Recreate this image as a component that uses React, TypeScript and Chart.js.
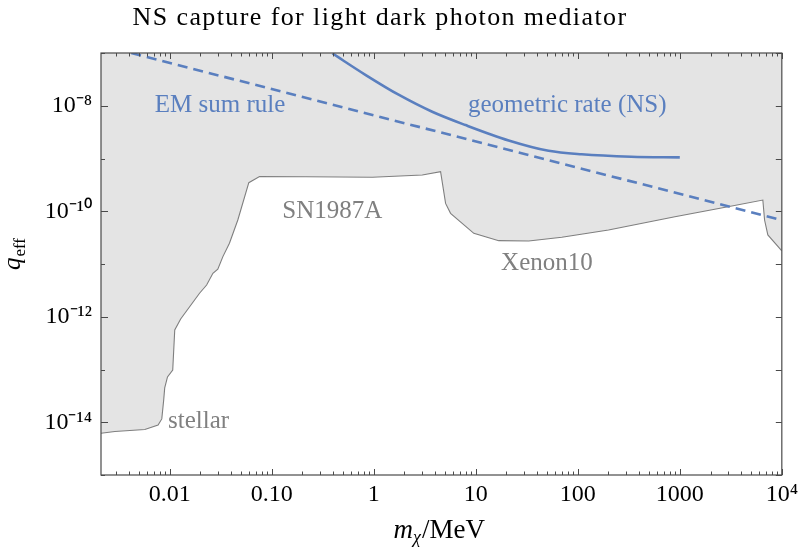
import React, { useEffect, useRef } from 'react';
import { Chart, registerables } from 'chart.js';

Chart.register(...registerables);

// ---- data ----
// excluded-region boundary (stellar / SN1987A / Xenon10), m_chi in MeV
const boundaryMass = [0.00212, 0.0029, 0.0057, 0.00769, 0.00836, 0.00873, 0.00893, 0.00951, 0.0107, 0.0112, 0.0128, 0.0196, 0.023, 0.0265, 0.0296, 0.0332, 0.0385, 0.0465, 0.0596, 0.0759, 0.217, 0.97, 2.99, 4.52, 5.06, 5.66, 9.57, 16.8, 33.0, 69.7, 200, 895, 2965, 6516, 6776, 7295, 10000];
const boundaryQ = [6.19e-15, 6.7e-15, 7.31e-15, 8.89e-15, 1.156e-14, 2.65e-14, 4.47e-14, 7.23e-14, 9.8e-14, 5.61e-13, 9.08e-13, 2.79e-12, 4.0e-12, 6.67e-12, 7.94e-12, 1.38e-11, 2.47e-11, 6.82e-11, 3.48e-10, 4.55e-10, 4.52e-10, 4.4e-10, 4.86e-10, 5.61e-10, 1.41e-10, 9.14e-11, 3.82e-11, 2.77e-11, 2.73e-11, 3.21e-11, 4.41e-11, 7.89e-11, 1.22e-10, 1.63e-10, 6.82e-11, 3.55e-11, 1.78e-11];

// geometric rate (NS), solid
const geoMass = [0.394, 0.835, 1.77, 3.74, 7.93, 21.0, 51.7, 109, 335, 1000];
const geoQ = [9.8e-8, 3.82e-8, 1.6e-8, 7.69e-9, 4.3e-9, 2.2e-9, 1.4e-9, 1.2e-9, 1.08e-9, 1.05e-9];

// EM sum rule, dashed
const emMass = [0.0042, 1, 10000];
const emQ = [1.0e-7, 6.6e-9, 6.8e-11];

// axis ranges and tick labels
const xMin = 0.00212;
const xMax = 10000;
const yMin = 1e-15;
const yMax = 1e-7;
const xTickValues = [0.01, 0.1, 1, 10, 100, 1000, 10000];
const xTickLabels = ['0.01', '0.10', '1', '10', '100', '1000', '10\u2074'];
const yTickValues = [1e-8, 1e-10, 1e-12, 1e-14];
const yTickLabels = ['10\u207B\u2078', '10\u207B\u00B9\u2070', '10\u207B\u00B9\u00B2', '10\u207B\u00B9\u2074'];

const BLUE = '#5a7fbf';
const GRAY_TEXT = '#808080';
const SERIF = '"Liberation Serif", "Times New Roman", serif';

const near = (a: number, b: number) => Math.abs(Math.log10(a) - Math.log10(b)) < 1e-6;
const isDecade = (v: number) => Math.abs(Math.log10(v) - Math.round(Math.log10(v))) < 1e-6;

const annotations = [
  { text: 'EM sum rule', x: 0.0311, y: 7.6e-9, color: BLUE, align: 'center' },
  { text: 'geometric rate (NS)', x: 78.9, y: 7.7e-9, color: BLUE, align: 'center' },
  { text: 'SN1987A', x: 0.392, y: 7.3e-11, color: GRAY_TEXT, align: 'center' },
  { text: 'Xenon10', x: 49.8, y: 7.7e-12, color: GRAY_TEXT, align: 'center' },
  { text: 'stellar', x: 0.00962, y: 7.7e-15, color: GRAY_TEXT, align: 'left' },
];

const decor = {
  id: 'decor',
  afterDatasetsDraw(chart: any) {
    const { ctx, chartArea: a, scales } = chart;
    const xs = scales.x;
    const ys = scales.y;
    ctx.save();

    // annotations
    ctx.font = `25px ${SERIF}`;
    ctx.textBaseline = 'alphabetic';
    annotations.forEach((an) => {
      ctx.fillStyle = an.color;
      ctx.textAlign = an.align;
      ctx.fillText(an.text, xs.getPixelForValue(an.x), ys.getPixelForValue(an.y));
    });

    // frame
    ctx.strokeStyle = '#4a4a4a';
    ctx.lineWidth = 1.2;
    ctx.strokeRect(a.left, a.top, a.right - a.left, a.bottom - a.top);

    const seg = (x1: number, y1: number, x2: number, y2: number) => {
      ctx.beginPath();
      ctx.moveTo(x1, y1);
      ctx.lineTo(x2, y2);
      ctx.stroke();
    };
    ctx.lineWidth = 1;
    xs.ticks.forEach((t: any) => {
      const px = Math.round(xs.getPixelForValue(t.value)) + 0.5;
      const len = isDecade(t.value) ? 6 : 3.5;
      seg(px, a.bottom, px, a.bottom - len);
      seg(px, a.top, px, a.top + len);
    });
    ys.ticks.forEach((t: any) => {
      const py = Math.round(ys.getPixelForValue(t.value)) + 0.5;
      const labeled = yTickValues.some((v) => near(v, t.value));
      seg(a.left, py, a.left + (labeled ? 7 : 4), py);
      seg(a.right, py, a.right - 6, py);
    });

    // title
    ctx.fillStyle = '#000';
    ctx.font = `26px ${SERIF}`;
    ctx.textAlign = 'center';
    try { (ctx as any).letterSpacing = '1.4px'; } catch (e) {}
    ctx.fillText('NS capture for light dark photon mediator', 380, 25);
    try { (ctx as any).letterSpacing = '0px'; } catch (e) {}

    // x-axis title: m_chi/MeV
    ctx.textAlign = 'left';
    const big = `italic 27px ${SERIF}`;
    const sub = `italic 18px ${SERIF}`;
    const up = `27px ${SERIF}`;
    ctx.font = big; const wm = ctx.measureText('m').width;
    ctx.font = sub; const wc = ctx.measureText('\u03C7').width;
    ctx.font = up; const wr = ctx.measureText('/MeV').width;
    const total = wm + wc + 1 + wr;
    let xx = 485 - total;
    const by = 538;
    ctx.font = big; ctx.fillText('m', xx, by); xx += wm;
    ctx.font = sub; ctx.fillText('\u03C7', xx, by + 5); xx += wc + 1;
    ctx.font = up; ctx.fillText('/MeV', xx, by);

    // y-axis title: q_eff (rotated)
    ctx.save();
    ctx.translate(20, 254);
    ctx.rotate(-Math.PI / 2);
    ctx.font = `italic 25px ${SERIF}`; const wq = ctx.measureText('q').width;
    ctx.font = `17px ${SERIF}`; const we = ctx.measureText('eff').width;
    const tot2 = wq + 1 + we;
    let yy = -tot2 / 2;
    ctx.font = `italic 25px ${SERIF}`; ctx.fillText('q', yy, 0); yy += wq + 1;
    ctx.font = `17px ${SERIF}`; ctx.fillText('eff', yy, 5);
    ctx.restore();

    ctx.restore();
  },
};

export default function App() {
  const ref = useRef<HTMLCanvasElement>(null);
  useEffect(() => {
    if (!ref.current) return;
    const chart = new Chart(ref.current, {
      type: 'line',
      data: {
        datasets: [
          {
            label: 'geometric rate (NS)',
            data: geoMass.map((m, i) => ({ x: m, y: geoQ[i] })),
            borderColor: BLUE,
            borderWidth: 2.6,
            pointRadius: 0,
            fill: false,
            cubicInterpolationMode: 'monotone',
            order: 0,
          },
          {
            label: 'EM sum rule',
            data: emMass.map((m, i) => ({ x: m, y: emQ[i] })),
            borderColor: BLUE,
            borderWidth: 2.6,
            borderDash: [10, 6],
            pointRadius: 0,
            fill: false,
            order: 1,
          },
          {
            label: 'excluded',
            data: boundaryMass.map((m, i) => ({ x: m, y: boundaryQ[i] })),
            borderColor: '#7f7f7f',
            borderWidth: 1.1,
            backgroundColor: '#e4e4e4',
            pointRadius: 0,
            fill: 'end',
            tension: 0,
            order: 2,
          },
        ],
      } as any,
      options: {
        animation: false,
        responsive: false,
        events: [],
        layout: { padding: { top: 53, right: 19, left: 0, bottom: 0 } },
        plugins: { legend: { display: false }, tooltip: { enabled: false }, title: { display: false } },
        scales: {
          x: {
            type: 'logarithmic',
            min: xMin,
            max: xMax,
            grid: { display: false, drawTicks: false },
            border: { display: false },
            ticks: {
              autoSkip: false,
              maxRotation: 0,
              minRotation: 0,
              padding: 5,
              color: '#000',
              font: { family: SERIF, size: 24 },
              callback: (v: any) => {
                const i = xTickValues.findIndex((t) => near(t, Number(v)));
                return i >= 0 ? xTickLabels[i] : '';
              },
            },
            afterBuildTicks: (s: any) => {
              const vals: number[] = [];
              for (let e = -3; e <= 3; e++) {
                for (let k = 1; k <= 9; k++) {
                  const v = k * Math.pow(10, e);
                  if (v >= xMin && v <= xMax) vals.push(v);
                }
              }
              vals.push(xMax);
              s.ticks = vals.map((v) => ({ value: v }));
            },
            afterFit: (s: any) => { s.height = 75; },
          },
          y: {
            type: 'logarithmic',
            min: yMin,
            max: yMax,
            grid: { display: false, drawTicks: false },
            border: { display: false },
            ticks: {
              autoSkip: false,
              padding: 9,
              color: '#000',
              font: { family: SERIF, size: 24 },
              callback: (v: any) => {
                const i = yTickValues.findIndex((t) => near(t, Number(v)));
                return i >= 0 ? yTickLabels[i] : '';
              },
            },
            afterBuildTicks: (s: any) => {
              const vals: number[] = [];
              for (let e = -15; e <= -7; e++) vals.push(Math.pow(10, e));
              s.ticks = vals.map((v) => ({ value: v }));
            },
            afterFit: (s: any) => { s.width = 101; },
          },
        },
      } as any,
      plugins: [decor],
    });
    return () => chart.destroy();
  }, []);
  return (
    <div style={{ position: 'fixed', left: 0, top: 0, width: 803, height: 550, background: '#fff' }}>
      <canvas ref={ref} width={803} height={550} style={{ display: 'block' }} />
    </div>
  );
}
